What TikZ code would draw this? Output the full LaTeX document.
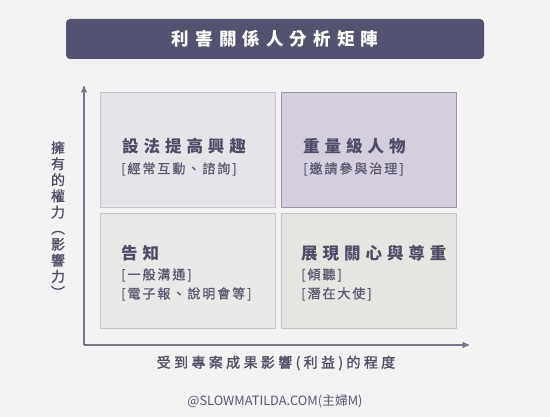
\documentclass[tikz,border=0pt]{standalone}
\usepackage{fontspec}
\usepackage{xcolor}
\usetikzlibrary{arrows,positioning}
\newfontfamily\cjk{Noto Sans CJK TC}
\newfontfamily\cjktitle[LetterSpace=35]{Noto Sans CJK TC}
\newfontfamily\cjkhead[LetterSpace=30]{Noto Sans CJK TC}
\newfontfamily\cjksub[LetterSpace=15,FakeBold=1]{Noto Sans CJK TC}
\newfontfamily\cjkaxis[LetterSpace=24,FakeBold=1.2]{Noto Sans CJK TC}
\newfontfamily\cjkside[FakeBold=1]{Noto Sans CJK TC}
\definecolor{paper}{HTML}{F3F3F3}
\definecolor{titlebg}{HTML}{535270}
\definecolor{ink}{HTML}{4E4C66}
\definecolor{subink}{HTML}{5A5870}
\definecolor{axisgray}{HTML}{77748C}
\definecolor{boxtl}{HTML}{E6E4E9}
\definecolor{boxtr}{HTML}{D4CEDD}
\definecolor{boxbl}{HTML}{EAE9E7}
\definecolor{boxbr}{HTML}{E6E5E1}
\definecolor{rimlight}{HTML}{C6C3CA}
\definecolor{rimdark}{HTML}{9C96A8}

\begin{document}
\begin{tikzpicture}[x=1pt, y=-1pt, >=stealth',
    quad/.style={draw=#1, line width=1pt, minimum width=175pt, minimum height=115pt, inner sep=0pt},
    head/.style={anchor=west, inner sep=0pt, text=ink, font=\cjkhead\bfseries\fontsize{16.5}{20}\selectfont},
    sub/.style={anchor=west, inner sep=0pt, text=subink, font=\cjksub\fontsize{13}{15}\selectfont},
    axis/.style={draw=axisgray, line width=1.3pt}]
    \fill[paper] (0,0) rectangle (550,417);
    \useasboundingbox (0,0) rectangle (550,417);
    \node[fill=titlebg, rounded corners=4pt, minimum width=418pt, minimum height=40pt, text=white,
          font=\cjktitle\bfseries\fontsize{17.5}{20}\selectfont] (title) at (275,39) {利害關係人分析矩陣};
    \node[quad=rimlight, fill=boxtl] (satisfy) at (187.5,150.5) {};
    \node[quad=rimdark, fill=boxtr] (manage) at (368.5,150.5) {};
    \node[quad=rimlight, fill=boxbl] (monitor) at (187.5,271.5) {};
    \node[quad=rimlight, fill=boxbr] (inform) at (368.5,271.5) {};
    \node[head] (satisfyhead) at (122,146) {設法提高興趣};
    \node[sub] (satisfysub) at (121,169) {[經常互動、諮詢]};
    \node[head] (managehead) at (303,146) {重量級人物};
    \node[sub] (managesub) at (303,169) {[邀請參與治理]};
    \node[head] (monitorhead) at (121,253) {告知};
    \node[sub] (monitorsub) at (121,275) {[一般溝通]};
    \node[sub] (monitorsubb) at (121,294) {[電子報、說明會等]};
    \node[head] (informhead) at (301,253) {展現關心與尊重};
    \node[sub] (informsub) at (301,275) {[傾聽]};
    \node[sub] (informsubb) at (301,294) {[潛在大使]};
    \coordinate (origin) at (84,345);
    \coordinate (ytop) at (84,86);
    \coordinate (xend) at (469,345);
    \draw[axis,->] (origin) -- (ytop);
    \draw[axis,->] (origin) -- (xend);
    \node[align=center, text=ink, inner sep=0pt, font=\cjkside\fontsize{14}{16.1}\selectfont] (power) at (58,219.5)
        {擁\\有\\的\\權\\力\\︵\\影\\響\\力\\︶};
    \node[text=ink, inner sep=0pt, font=\cjkaxis\fontsize{14}{16}\selectfont] (interest) at (276,363) {受到專案成果影響(利益)的程度};
    \node[text=subink, inner sep=0pt, font=\cjk\fontsize{12.8}{15}\selectfont] (credit) at (275,401) {@SLOWMATILDA.COM(主婦M)};
\end{tikzpicture}
\end{document}
